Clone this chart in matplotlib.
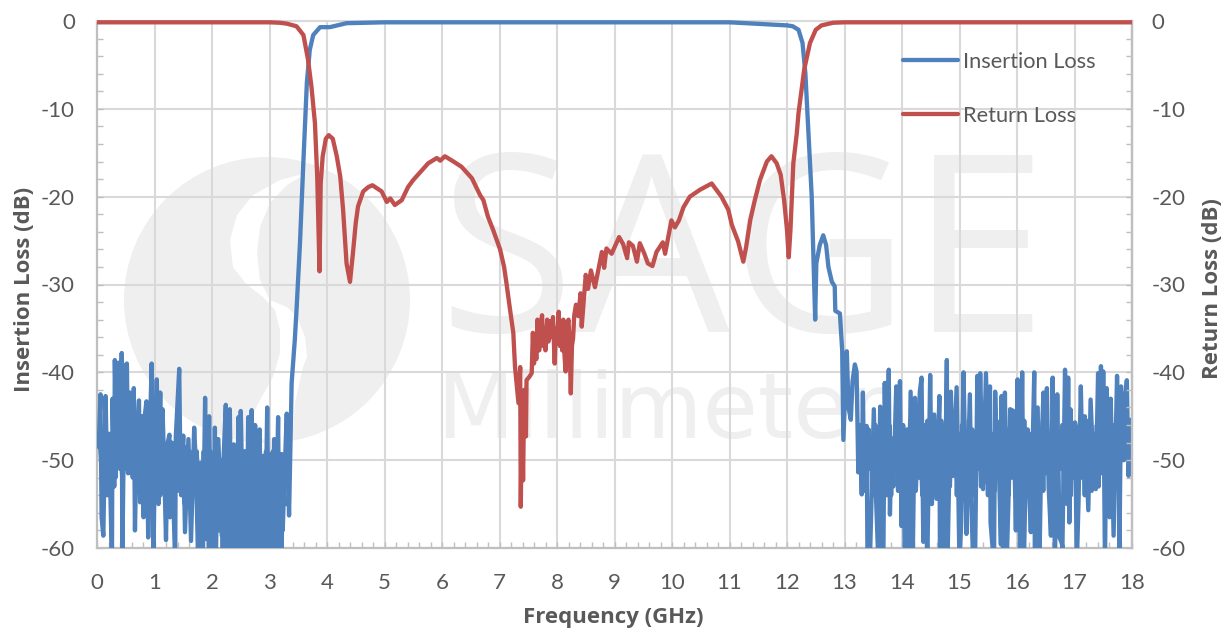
import matplotlib
matplotlib.use("Agg")
import matplotlib.pyplot as plt
import numpy as np
from matplotlib.patches import Ellipse, Polygon, Rectangle

plt.rcParams["font.family"] = ["Lato", "DejaVu Sans"]
plt.rcParams["axes.unicode_minus"] = False

GRAY_TEXT = "#595959"
GRID = "#D9D9D9"
AXIS = "#BFBFBF"
MARK = "#EFEFEF"
BLUE = "#4F81BD"
RED = "#C0504D"

# insertion loss in stretches
il_low_f = [0.02, 0.03, 0.06, 0.08, 0.11, 0.15, 0.18, 0.21, 0.26, 0.27, 0.30, 0.31, 0.34, 0.37, 0.40, 0.43, 0.44,
            0.46, 0.48, 0.52, 0.54, 0.57, 0.60, 0.64, 0.66, 0.69, 0.73, 0.75, 0.78, 0.81, 0.83, 0.86, 0.89, 0.92,
            0.95, 0.98, 1.01, 1.04, 1.07, 1.10, 1.11, 1.14, 1.165, 1.20, 1.23, 1.26, 1.27, 1.30, 1.36, 1.37, 1.43,
            1.455, 1.50, 1.53, 1.59, 1.635, 1.69, 1.72, 1.76, 1.80, 1.84, 1.88, 1.91, 1.95, 1.98, 2.02, 2.05, 2.08,
            2.11, 2.17, 2.20, 2.24, 2.27, 2.31, 2.34, 2.38, 2.42, 2.46, 2.49, 2.50, 2.545, 2.57, 2.60, 2.63, 2.66,
            2.69, 2.72, 2.75, 2.79, 2.83, 2.85, 2.89, 2.92, 2.96, 2.985, 3.01, 3.04, 3.08, 3.10, 3.15, 3.17, 3.21,
            3.23, 3.26, 3.30, 3.34, 3.37, 3.385]
il_low_db = [-48, -48.5, -42.5, -56.5, -58.6, -42.7, -54, -47, -62, -43, -53, -38.6, -50, -38.9, -51, -37.8, -62,
             -51, -39.3, -39, -51.5, -42.3, -51.5, -41.8, -58, -48, -43.2, -54.8, -45, -56.5, -45, -43.3, -58.8,
             -47, -39, -62, -48, -40.8, -55, -42.3, -53.3, -44.2, -50, -59.1, -48, -47.1, -56.5, -48, -62, -47.4,
             -39.6, -52.9, -47.2, -58.2, -47.6, -59.2, -46.3, -50.5, -62, -50.3, -62, -42.9, -59, -45, -60, -62,
             -46.3, -58, -47.6, -58.6, -50, -43.7, -62, -44.2, -62, -48.2, -62, -45.1, -60, -44.4, -58.9, -49, -62,
             -45.1, -62, -44.3, -58.6, -46, -55, -46.5, -62, -49.5, -62, -44, -62, -49.3, -62, -47.6, -62, -45.1,
             -62, -49.3, -58, -52, -44.7, -56.3, -46, -41.2]

il_pass_f = [3.44, 3.47, 3.53, 3.59, 3.65, 3.70, 3.76, 3.88, 4.05, 4.34, 5.0, 8.0, 11.0, 12.0, 12.1, 12.2, 12.27,
             12.32, 12.37, 12.43, 12.49, 12.51, 12.57, 12.63, 12.68, 12.72, 12.78, 12.83, 12.84, 12.92, 12.94]
il_pass_db = [-36.3, -32.9, -25.3, -15.9, -7, -3.3, -1.6, -0.7, -0.7, -0.25, -0.15, -0.15, -0.15, -0.5, -0.6, -1, -2.5,
              -6, -12.4, -20, -34, -27.6, -25.5, -24.4, -25.5, -28, -29.7, -30.2, -33, -33.3, -35.4]

il_high_f = [12.96, 12.98, 13.04, 13.07, 13.11, 13.14, 13.18, 13.21, 13.24, 13.27, 13.30, 13.32, 13.345, 13.385,
             13.40, 13.44, 13.47, 13.51, 13.55, 13.59, 13.62, 13.65, 13.675, 13.70, 13.73, 13.77, 13.79, 13.82,
             13.85, 13.90, 13.92, 13.965, 13.99, 14.02, 14.05, 14.08, 14.11, 14.15, 14.19, 14.225, 14.24, 14.31,
             14.34, 14.37, 14.40, 14.44, 14.49, 14.52, 14.56, 14.60, 14.65, 14.66, 14.71, 14.73, 14.78, 14.79,
             14.85, 14.89, 14.95, 15.00, 15.03, 15.07, 15.10, 15.12, 15.18, 15.21, 15.24, 15.27, 15.31, 15.33,
             15.36, 15.41, 15.46, 15.50, 15.53, 15.54, 15.60, 15.62, 15.65, 15.675, 15.72, 15.73, 15.76, 15.79,
             15.82, 15.85, 15.88, 15.94, 15.98, 16.01, 16.05, 16.09, 16.12, 16.16, 16.20, 16.24, 16.30, 16.31,
             16.36, 16.39, 16.42, 16.46, 16.49, 16.52, 16.55, 16.59, 16.62, 16.66, 16.70, 16.74, 16.78, 16.79,
             16.835, 16.87, 16.89, 16.91, 16.93, 16.98, 17.01, 17.04, 17.07, 17.11, 17.14, 17.18, 17.24, 17.28,
             17.33, 17.37, 17.41, 17.44, 17.46, 17.48, 17.50, 17.53, 17.56, 17.59, 17.61, 17.63, 17.68, 17.74,
             17.77, 17.78, 17.81, 17.86, 17.88, 17.91, 17.94, 17.98, 18.0]
il_high_db = [-37.5, -47.7, -37.6, -44, -45.4, -41, -39.1, -39.9, -51.4, -46, -53.9, -42.3, -53.5, -46.1,
              -62, -62, -54.5, -44.2, -54.5, -62, -43.9, -62, -62, -41.2, -54, -39.7, -56.2, -48,
              -53, -41.6, -50, -41, -57.5, -46, -62, -50, -62, -42.2, -60, -42.9, -53.5, -42.2,
              -40.6, -59.3, -47, -62, -40.3, -55, -44.8, -54.4, -42.7, -62, -50, -62, -38.6, -62,
              -42.2, -51.8, -41.7, -62, -57, -40, -50, -58.4, -42.5, -56, -62, -62, -40.4, -50,
              -40.1, -53.3, -40.1, -50, -41.6, -57.1, -62, -42.2, -50, -48, -59.6, -42.7, -62, -42.3,
              -62, -55, -44.2, -44.4, -58, -40.8, -60, -40, -62, -48, -51.4, -58.2, -40, -62,
              -44, -62, -50, -42.3, -49.5, -41.8, -53, -58.6, -40.6, -62, -42.5, -58.8, -59.5, -60,
              -39.7, -55, -40.6, -57.1, -44.2, -52, -45.7, -62, -54.8, -41.6, -51, -45, -55.7, -43.1,
              -51, -53.3, -40.1, -50, -39.3, -50, -39.9, -62, -41.8, -50, -56.5, -43, -58.6, -40.4,
              -50, -62, -41.6, -50, -43.4, -40.9, -51.8, -45.4, -45.4]

# the solid part of the noise floor, sweep points too close to pick apart one by one
floor_low_db = [-48, -51, -47.5, -52, -48, -50.5, -47, -51.5, -48.5, -52, -47, -50, -48, -52.5, -47.5, -51,
                -46.5, -50.5, -48, -52, -47, -51, -48, -53, -47.5, -50.5, -46, -52, -47, -51, -48, -53,
                -48, -53, -49, -54, -48, -52.5, -49, -54.5, -48.5, -53, -49.5, -55, -48, -53.5, -49, -54,
                -50, -55, -48.5, -53, -49, -56, -50, -54, -49, -55, -50.5, -58, -49, -57, -50, -60, -49,
                -56, -50, -62, -49.5, -58, -50, -62, -49, -60, -50.5, -62, -49, -59, -50, -62, -49.5,
                -60, -50, -62, -49, -59, -50.5, -62, -49, -60, -50, -62, -49.5, -61, -50, -62, -49,
                -62, -50.5, -62, -49, -62, -50, -62, -49.5, -60, -50, -55]
floor_high_db = [-46, -52, -47, -53, -46.5, -51, -47.5, -54, -46, -52.5, -47, -51.5, -45.5, -53, -47, -52,
                 -46, -54, -47.5, -51, -46, -53.5, -45.5, -52, -47, -54, -46.5, -51.5, -45.5, -53, -47, -52.5,
                 -46, -52, -47.5, -54, -46, -51, -45.5, -53, -47, -52, -46.5, -54, -47, -51.5, -45.5, -53.5,
                 -46, -52, -47.5, -53, -46.5, -51, -45.5, -54, -47, -52.5, -46, -51.5, -47, -53, -45.5, -52,
                 -46.5, -54, -47, -51, -46, -53, -45.5, -52.5, -47.5, -54, -46, -51.5, -47, -53.5, -45.5, -52,
                 -46, -53, -47.5, -51, -46.5, -54, -45.5, -52, -47, -53, -46, -51.5, -47.5, -54, -45.5, -52.5,
                 -46.5, -53, -47, -51, -46, -54, -45.5, -52, -47.5, -53.5, -46, -51.5, -47, -53, -46.5, -52,
                 -45.5, -54, -47, -51, -46, -53, -47.5, -52.5, -45.5, -54, -46.5, -51.5, -47, -53, -46, -52,
                 -47.5, -54, -45.5, -51, -46.5, -53.5, -47, -52, -46, -53, -45.5, -51.5, -47, -54, -46.5, -52.5,
                 -47.5, -53, -46, -51, -45.5, -52, -47, -50, -46, -49, -46, -48]

# return loss, the comb around 8 GHz kept apart since it has the most points
rl_start_f = [0.0, 1.0, 2.0, 3.0, 3.18, 3.3, 3.47, 3.59, 3.67, 3.73, 3.79, 3.83, 3.87, 3.89, 3.925, 3.98, 4.03, 4.1,
              4.17, 4.23, 4.28, 4.34, 4.4, 4.45, 4.5, 4.54, 4.63, 4.72, 4.79, 4.86, 4.95, 5.04, 5.1, 5.18, 5.3, 5.41,
              5.5, 5.65, 5.76, 5.91, 5.97, 6.05, 6.2, 6.34, 6.52, 6.66, 6.72, 6.8, 6.89, 7.01, 7.08, 7.12, 7.18, 7.24,
              7.27, 7.33, 7.36, 7.37, 7.39, 7.41, 7.43, 7.46, 7.47]
rl_start_db = [-0.15, -0.15, -0.15, -0.15, -0.2, -0.3, -0.6, -1.6, -4.4, -7.5, -11.6, -17.7, -28.5, -18.5, -15.4, -13.4,
               -13, -13.4, -15.4, -17.7, -21.5, -27.6, -29.7, -26.5, -23, -21.1, -19.4, -18.9, -18.7, -19, -19.4, -20.6,
               -20.2, -20.95, -20.4, -18.9, -18.1, -17, -16.2, -15.6, -15.9, -15.4, -16, -16.6, -17.9, -19.8, -20.4,
               -22.3, -23.8, -26, -28, -29.8, -32.7, -35.5, -39.4, -43.5, -39.4, -55.3, -44, -52.3, -42, -47.3, -40.9]
rl_comb_f = [7.52, 7.56, 7.58, 7.60, 7.62, 7.64, 7.66, 7.69, 7.71, 7.74, 7.76, 7.78, 7.8, 7.83, 7.85, 7.88, 7.91, 7.93,
             7.96, 7.98, 8.0, 8.03, 8.05, 8.07, 8.09, 8.11, 8.13, 8.15, 8.17, 8.2, 8.22, 8.24, 8.26, 8.28, 8.30, 8.33]
rl_comb_db = [-40.5, -40.1, -35.5, -39, -36, -38.5, -34, -37.5, -35, -33.5, -37, -35, -37.5, -34, -36.5, -34.2, -36,
              -33.7, -39, -35, -36.5, -33.1, -37, -34.5, -37.5, -34, -38, -39.9, -35, -34, -37, -42.4, -37, -36.1,
              -33.5, -32.3]
rl_end_f = [8.37, 8.41, 8.43, 8.5, 8.54, 8.59, 8.66, 8.78, 8.82, 8.86, 8.95, 9.08, 9.15, 9.22, 9.25, 9.32, 9.39, 9.44,
            9.52, 9.58, 9.66, 9.73, 9.79, 9.84, 9.88, 9.99, 10.05, 10.12, 10.2, 10.31, 10.49, 10.69, 10.86, 10.98,
            11.04, 11.15, 11.24, 11.29, 11.36, 11.44, 11.53, 11.65, 11.73, 11.82, 11.89, 11.95, 12.0, 12.03, 12.06,
            12.11, 12.17, 12.2, 12.3, 12.4, 12.5, 12.6, 12.8, 13.0, 15.0, 18.0]
rl_end_db = [-33.6, -31, -34.8, -28.9, -30.5, -28.4, -30.3, -26.3, -28.1, -25.9, -26.5, -24.6, -25.4, -27, -25.2, -25.6,
             -27.4, -25.3, -26.5, -27.6, -27.9, -26.3, -25.7, -25.2, -26.5, -22.7, -23.5, -22.7, -21.2, -20, -19.2,
             -18.5, -20, -21.5, -23.2, -25.1, -27.4, -25.7, -22.7, -20.4, -18.1, -16, -15.4, -16.2, -17.5, -20.4,
             -23.8, -26.9, -23.8, -16.2, -12.8, -10.5, -5.5, -2.5, -1, -0.5, -0.2, -0.15, -0.15, -0.15]

freq_ticks = list(range(0, 19))
db_ticks = [0, -10, -20, -30, -40, -50, -60]
freq_minor = [i * 0.2 for i in range(91)]
db_minor = [-2 * i for i in range(31)]


def px(x, y):
    # watermark shapes are traced in image pixels, turn them into axis units
    return (x - 97) / 57.5, -(y - 21) / 8.783


swirl_px = [(307, 173), (280, 180), (253, 195), (237, 215), (230, 240), (233, 267), (247, 285), (263, 297), (275, 310),
            (280, 330), (280, 353), (273, 377), (260, 400), (250, 420), (267, 445), (292, 442), (295, 403), (303, 367),
            (307, 357), (305, 337), (297, 317), (287, 307), (270, 300), (260, 280), (257, 253), (260, 227), (270, 203),
            (287, 185)]

fig = plt.figure(figsize=(12.27, 6.33), dpi=100)
ax = fig.add_axes([97 / 1227, 1 - 548 / 633, 1035 / 1227, 527 / 633])
ax2 = ax.twinx()

ax.add_patch(Ellipse(px(267, 300), 2 * 143 / 57.5, 2 * 143 / 8.783, color=MARK, lw=0, zorder=0.3))
ax.add_patch(Polygon([px(*p) for p in swirl_px], closed=True, color="white", lw=0, zorder=0.35))
ax.text(*px(438, 332), "SAGE", fontsize=178, family="Open Sans", color=MARK, zorder=0.4, va="baseline")
ax.text(*px(436, 438), "Millimeter", fontsize=65, family="DejaVu Sans", color=MARK, zorder=0.4, va="baseline")

il_f = il_low_f + il_pass_f + il_high_f
il_db = il_low_db + il_pass_db + il_high_db
rl_f = rl_start_f + rl_comb_f + rl_end_f
rl_db = rl_start_db + rl_comb_db + rl_end_db
line_il, = ax.plot(il_f, il_db, color=BLUE, lw=3.1, label="Insertion Loss", zorder=3,
                   solid_joinstyle="round", solid_capstyle="round")
ax.plot(np.linspace(0.05, 3.27, len(floor_low_db)), floor_low_db, color=BLUE, lw=3.1, zorder=3)
ax.plot(np.linspace(13.3, 17.96, len(floor_high_db)), floor_high_db, color=BLUE, lw=3.1, zorder=3)
line_rl, = ax2.plot(rl_f, rl_db, color=RED, lw=3.1, label="Return Loss", zorder=3,
                    solid_joinstyle="round", solid_capstyle="round")

# the flat tops sit on the 0 dB line and stay whole, the dips get cut at -60
for axis, line in ((ax, line_il), (ax2, line_rl)):
    line.set_clip_path(Rectangle((0, 0), 1, 1.02, transform=axis.transAxes))

for axis in (ax, ax2):
    axis.set_xlim(0, 18)
    axis.set_ylim(-60, 0)
    axis.set_yticks(db_ticks)
    axis.set_yticks(db_minor, minor=True)
    axis.tick_params(which="both", direction="in", length=4, width=1, color=AXIS)
    for side in ("left", "right", "bottom"):
        axis.spines[side].set_color(AXIS)
        axis.spines[side].set_linewidth(1.6)
ax.tick_params(which="major", axis="y", labelsize=16, labelcolor=GRAY_TEXT, pad=16)
ax2.tick_params(which="major", axis="y", labelsize=16, labelcolor=GRAY_TEXT, pad=14)

# the twin sits on top of the blue line, so it keeps only its own right edge
for side in ("left", "top", "bottom"):
    ax2.spines[side].set_visible(False)
ax.spines["top"].set_color(GRID)
ax.spines["top"].set_linewidth(1.5)

ax.set_xticks(freq_ticks)
ax.set_xticks(freq_minor, minor=True)
ax.tick_params(which="major", axis="x", labelsize=16, labelcolor=GRAY_TEXT, pad=18)
ax.set_axisbelow("line")
ax.grid(True, which="major", color=GRID, lw=1.5)

label_style = dict(fontsize=16, weight="bold", color=GRAY_TEXT, family="Open Sans")
ax.set_xlabel("Frequency (GHz)", **label_style)
ax.xaxis.set_label_coords(0.499, -0.112)
ax.set_ylabel("Insertion Loss (dB)", **label_style)
ax.yaxis.set_label_coords(-0.06, 0.49)
ax2.set_ylabel("Return Loss (dB)", **label_style)
ax2.yaxis.set_label_coords(1.0676, 0.493)

ax2.legend(handles=[line_il, line_rl], frameon=False, fontsize=15.7, labelcolor=GRAY_TEXT,
           loc="upper left", bbox_to_anchor=(903 / 1227, 1 - 52 / 633), bbox_transform=fig.transFigure,
           borderaxespad=0, borderpad=0, handlelength=2.53, handletextpad=0.2, labelspacing=1.55)

fig.savefig("out.png", dpi=100)
